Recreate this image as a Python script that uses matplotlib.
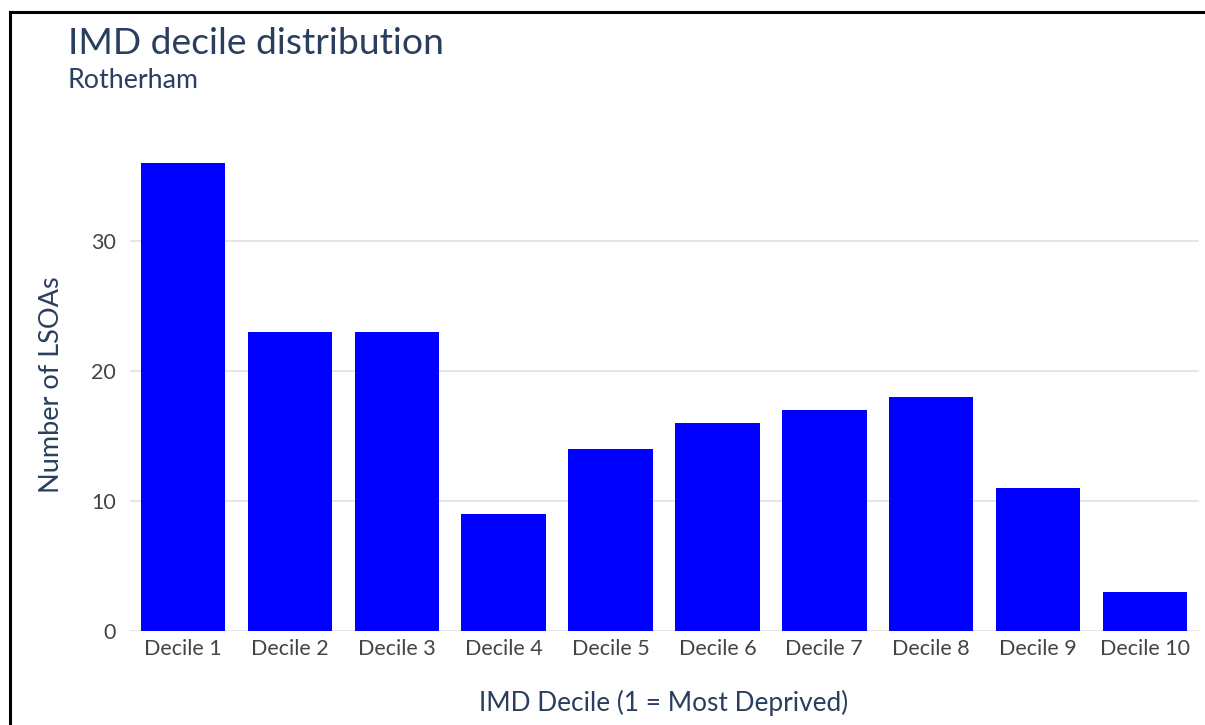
import matplotlib
matplotlib.use("Agg")
import matplotlib.pyplot as plt
from matplotlib.lines import Line2D

categories = ["Decile 1", "Decile 2", "Decile 3", "Decile 4", "Decile 5",
              "Decile 6", "Decile 7", "Decile 8", "Decile 9", "Decile 10"]
counts = [36, 23, 23, 9, 14, 16, 17, 18, 11, 3]
yticks = [0, 10, 20, 30]

plt.rcParams['font.family'] = ['Lato', 'DejaVu Sans']

W, H = 1205, 725
fig = plt.figure(figsize=(W / 100, H / 100), dpi=100)
ax = fig.add_axes([129.5 / W, 1 - 631 / H, (1198.5 - 129.5) / W, (631 - 138) / H])

x = list(range(len(categories)))
ax.bar(x, counts, width=0.79, color="#0000ff", zorder=3)
ax.set_xlim(-0.5, len(categories) - 0.5)
ax.set_ylim(0, 37.9)
ax.set_yticks(yticks)
ax.set_xticks(x)
ax.set_xticklabels(categories)
ax.grid(axis="y", color="#e4e4e4", linewidth=1.3, zorder=0)
for s in ax.spines.values():
    s.set_visible(False)
ax.tick_params(axis="both", length=0, labelsize=15.5, colors="#444444")
ax.tick_params(axis="x", pad=6)
ax.tick_params(axis="y", pad=10)

ax.set_ylabel("Number of LSOAs", fontsize=19.5, color="#2a3f5f", labelpad=19)
ax.set_xlabel("IMD Decile (1 = Most Deprived)", fontsize=18.9, color="#2a3f5f", labelpad=22)

fig.text(68 / W, 1 - 44 / H, "IMD decile distribution", fontsize=26.8, color="#2a3f5f",
         va="center", ha="left")
fig.text(68 / W, 1 - 80 / H, "Rotherham", fontsize=19.3, color="#2a3f5f",
         va="center", ha="left")

# screenshot frame lines
fig.add_artist(Line2D([10 / W, 1], [1 - 12 / H, 1 - 12 / H], color="black", linewidth=2.2,
                      transform=fig.transFigure))
fig.add_artist(Line2D([10 / W, 10 / W], [0, 1 - 12 / H], color="black", linewidth=2.2,
                      transform=fig.transFigure))

fig.savefig("out.png", dpi=100)
